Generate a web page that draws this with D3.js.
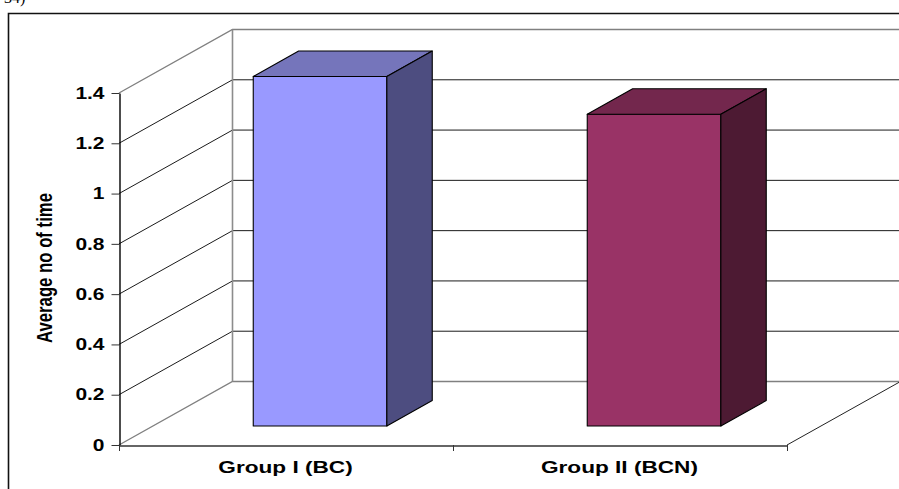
<!DOCTYPE html>
<html>
<head>
<meta charset="utf-8">
<script src="https://cdn.jsdelivr.net/npm/d3@7"></script>
<style>
html, body { margin: 0; padding: 0; background: #fff; overflow: hidden; }
svg { display: block; }
text { font-family: "Liberation Sans", Arial, sans-serif; fill: #000; }
</style>
</head>
<body>
<svg id="chart" width="899" height="489"></svg>
<script>
// Chart values
const categories = ["Group I (BC)", "Group II (BCN)"];
const averages = [1.39, 1.24];
const yTicks = [0, 0.2, 0.4, 0.6, 0.8, 1, 1.2, 1.4];
const yTitle = "Average no of time";
const frontFaces = ["#9999ff", "#993366"];
const topFaces = ["#7575bb", "#73274d"];
const sideFaces = ["#4d4d80", "#4d1a33"];

const svg = d3.select("#chart");

// Oblique projection: the floor recedes up and to the right
const depth = { dx: 113.5, dy: -63.5 };
const barNear = 0.3, barFar = 0.7;
const project = (x, y, t) => [x + depth.dx * t, y + depth.dy * t];

const x = d3.scaleBand().domain(categories).range([119, 787])
  .paddingInner(0.6).paddingOuter(0.3);
const y = d3.scaleLinear().domain([0, 1.4]).range([445, 93]);
const line = d3.line();

// Outer border, open on the right and bottom
svg.append("path").attr("d", "M8.5,489V13.5H899")
  .attr("fill", "none").attr("stroke", "#111").attr("stroke-width", 1.6);

// Tail of the caption running in from the text above the figure
svg.append("text").attr("x", 4).attr("y", 3)
  .style("font-family", "Liberation Serif").style("font-size", "16px").text("34)");

// Gridlines across the side wall and back wall
yTicks.forEach(t => {
  const edge = t === 0 || t === 1.4;
  const p0 = [119, y(t)], p1 = project(119, y(t), 1);
  svg.append("path").attr("d", line([p0, p1, [899, p1[1]]]))
    .attr("fill", "none")
    .attr("stroke", edge ? "#808080" : "#1a1a1a")
    .attr("stroke-width", edge ? 1.4 : 1);
});

// Back wall's left edge and the floor's right edge
svg.append("path").attr("d", line([project(119, y(1.4), 1), project(119, y(0), 1)]))
  .attr("fill", "none").attr("stroke", "#8c8c8c").attr("stroke-width", 1.6);
svg.append("path").attr("d", line([[787, y(0)], project(787, y(0), 1)]))
  .attr("fill", "none").attr("stroke", "#222").attr("stroke-width", 1);

// Each bar is three faces: front, top and right side
const bars = svg.selectAll("g.bar").data(categories).join("g").attr("class", "bar");
bars.each(function (c, i) {
  const g = d3.select(this);
  const l = x(c), r = l + x.bandwidth();
  const top = y(averages[i]), base = y(0);
  const A = (px, py) => project(px, py, barNear);
  const B = (px, py) => project(px, py, barFar);
  const face = (pts, fill) => g.append("path")
    .attr("d", line(pts) + "Z").attr("fill", fill)
    .attr("stroke", "#000").attr("stroke-width", 1.1).attr("stroke-linejoin", "round");
  face([A(l, base), A(l, top), A(r, top), A(r, base)], frontFaces[i]);
  face([A(l, top), B(l, top), B(r, top), A(r, top)], topFaces[i]);
  face([A(r, base), A(r, top), B(r, top), B(r, base)], sideFaces[i]);
});

// Value axis
const yAxis = svg.append("g").attr("transform", "translate(119.5,0)")
  .call(d3.axisLeft(y).tickValues(yTicks).tickFormat(d3.format("~g")).tickSize(8).tickSizeOuter(0).tickPadding(7));
yAxis.select(".domain").attr("stroke", "#000").attr("stroke-width", 1.4);
yAxis.selectAll(".tick line").attr("stroke", "#333").attr("stroke-width", 1);
yAxis.selectAll(".tick text")
  .style("font-size", "16.5px").style("font-weight", "bold")
  .attr("text-anchor", "end")
  .each(function () {
    d3.select(this).attr("textLength", this.getComputedTextLength() * 1.27)
      .attr("lengthAdjust", "spacingAndGlyphs");
  });

// Category axis
const xAxis = svg.append("g").attr("transform", "translate(0,445.5)")
  .call(d3.axisBottom(x).tickValues([]).tickSizeOuter(0));
xAxis.select(".domain").attr("stroke", "#333").attr("stroke-width", 1.6);
const step = x.step();
svg.append("g").selectAll("line").data(d3.range(categories.length + 1)).join("line")
  .attr("x1", d => x.range()[0] + d * step + 0.5).attr("x2", d => x.range()[0] + d * step + 0.5)
  .attr("y1", 445).attr("y2", 451).attr("stroke", "#333");

svg.append("g").selectAll("text").data(categories).join("text")
  .attr("x", c => x(c) + x.bandwidth() / 2 - 0.5)
  .attr("y", 473)
  .attr("text-anchor", "middle")
  .style("font-size", "17px").style("font-weight", "bold")
  .text(c => c)
  .each(function () {
    d3.select(this).attr("textLength", this.getComputedTextLength() * 1.33)
      .attr("lengthAdjust", "spacingAndGlyphs");
  });

// Value axis title
svg.append("text")
  .attr("transform", "translate(52,268) rotate(-90)")
  .attr("text-anchor", "middle")
  .style("font-size", "22px").style("font-weight", "bold")
  .attr("textLength", 150).attr("lengthAdjust", "spacingAndGlyphs")
  .text(yTitle);
</script>
</body>
</html>
